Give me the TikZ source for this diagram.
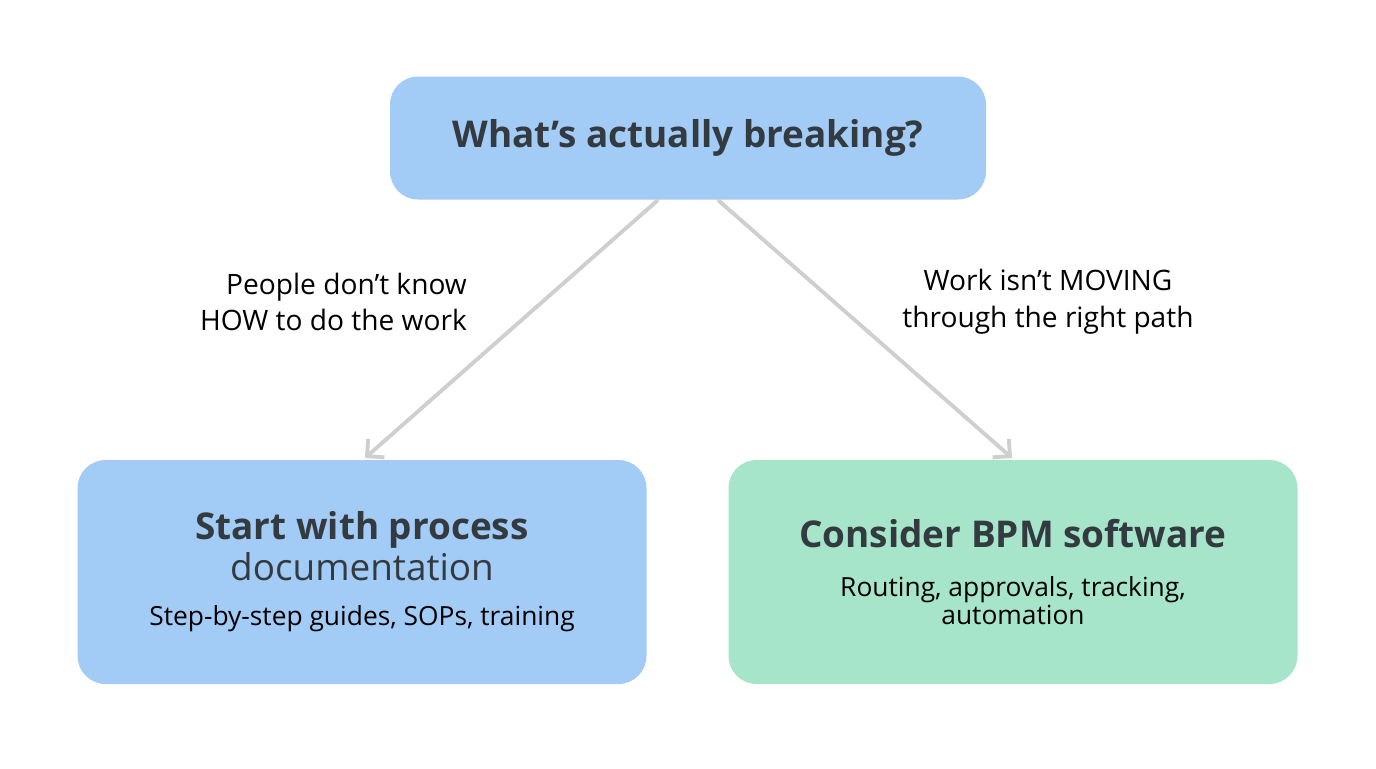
\documentclass[tikz,border=0pt]{standalone}
\usepackage{fontspec}
\setmainfont{Open Sans}
\definecolor{boxblue}{HTML}{A2CBF5}
\definecolor{boxgreen}{HTML}{A6E5CA}
\definecolor{ink}{HTML}{333A40}
\definecolor{wire}{HTML}{CFCFCF}
\tikzset{
  box/.style={rounded corners=16pt, align=center, text=ink, inner sep=0pt},
  lbl/.style={align=center, text=black, font=\fontsize{16}{21}\selectfont},
  link/.style={draw=wire, line width=2.2pt, -{Straight Barb[length=7pt,width=14pt]}}
}
\usetikzlibrary{arrows.meta}
\begin{document}
\begin{tikzpicture}[x=0.02cm,y=-0.02cm]
\useasboundingbox[fill=white] (0,0) rectangle (1376,768);
% question
\node[box, fill=boxblue, minimum width=596*0.02cm, minimum height=123*0.02cm,
  font=\fontsize{21}{25}\selectfont\bfseries] (ask) at (688,138) {What’s actually breaking?};
% answers
\node[box, fill=boxblue, minimum width=569*0.02cm, minimum height=224*0.02cm] (doc) at (362,572)
  {{\fontsize{21}{25}\selectfont\bfseries Start with process}\\[1pt]
   {\fontsize{21}{25}\selectfont documentation}\\[14pt]
   {\fontsize{15}{18}\selectfont\color{black} Step-by-step guides, SOPs, training}};
\node[box, fill=boxgreen, minimum width=569*0.02cm, minimum height=224*0.02cm] (bpm) at (1013,572)
  {{\fontsize{21}{25}\selectfont\bfseries Consider BPM software}\\[16pt]
   {\fontsize{15}{20}\selectfont\color{black} Routing, approvals, tracking,}\\
   {\fontsize{15}{20}\selectfont\color{black} automation}};
\coordinate (l0) at (658,200); \coordinate (l1) at (365,458);
\coordinate (r0) at (718,200); \coordinate (r1) at (1012,458);
\draw[link] (l0) -- (l1);
\draw[link] (r0) -- (r1);
\node[lbl, align=right, anchor=east] (why1) at (473,302) {People don’t know\\HOW to do the work};
\node[lbl] (why2) at (1048,302) {Work isn’t MOVING\\through the right path};
\end{tikzpicture}
\end{document}
